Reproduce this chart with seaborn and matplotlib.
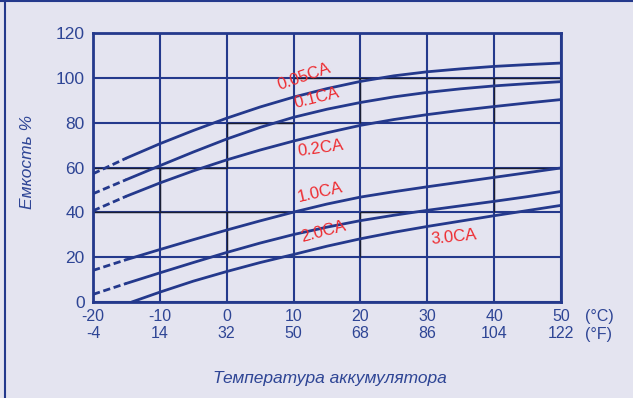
import matplotlib
matplotlib.use("Agg")
import matplotlib.pyplot as plt
import pandas as pd
import seaborn as sns
from matplotlib.lines import Line2D

# Capacity (%) versus battery temperature (deg C) for several discharge rates
temps = [-20, -15, -10, -5, 0, 5, 10, 15, 20, 25, 30, 35, 40, 45, 50]
cap_005 = [57.2, 64.2, 70.6, 76.5, 82.0, 87.0, 91.4, 95.2, 98.4, 100.9, 102.7, 104.0, 105.1, 105.9, 106.6]
cap_01 = [48.3, 54.6, 60.8, 66.9, 72.7, 77.9, 82.4, 86.0, 89.0, 91.5, 93.5, 95.1, 96.4, 97.4, 98.3]
cap_02 = [40.7, 47.2, 53.1, 58.5, 63.4, 67.8, 71.8, 75.5, 78.8, 81.4, 83.6, 85.5, 87.2, 88.8, 90.3]
cap_10 = [14.1, 18.9, 23.4, 27.8, 32.1, 36.2, 40.1, 43.7, 46.8, 49.2, 51.4, 53.5, 55.6, 57.7, 59.8]
cap_20 = [3.4, 8.3, 13.0, 17.6, 22.1, 26.3, 30.1, 33.4, 36.3, 38.7, 40.9, 42.9, 44.9, 47.0, 49.3]
temps_30 = [-14.2, -10, -5, 0, 5, 10, 15, 20, 25, 30, 35, 40, 45, 50]
cap_30 = [0.0, 4.4, 9.3, 13.6, 17.6, 21.2, 24.9, 28.2, 31.1, 33.7, 36.1, 38.5, 40.8, 43.1]

rates = ["0.05CA", "0.1CA", "0.2CA", "1.0CA", "2.0CA", "3.0CA"]
# below this temperature each curve is extrapolated (drawn dashed)
dash_limit = -15

celsius_ticks = [-20, -10, 0, 10, 20, 30, 40, 50]
fahrenheit_ticks = [-4, 14, 32, 50, 68, 86, 104, 122]
cap_ticks = [0, 20, 40, 60, 80, 100, 120]

# label placement (temperature, capacity, rotation) for each rate
label_pos = [(11.6, 100.4, 19), (13.4, 91.2, 14), (14.0, 68.6, 8),
             (14.0, 49.0, 13), (14.4, 31.2, 15), (34.0, 28.8, 6)]

BG = "#E4E4F0"
BLUE = "#24398C"
TEXT = "#2E4595"
RED = "#EE2B30"

series = [(temps, cap_005), (temps, cap_01), (temps, cap_02),
          (temps, cap_10), (temps, cap_20), (temps_30, cap_30)]

rows = []
for rate, (tt, cc) in zip(rates, series):
    for t, c in zip(tt, cc):
        if t <= dash_limit:
            rows.append((rate + "-ext", "ext", t, c))
        if t >= dash_limit:
            rows.append((rate, "main", t, c))
df = pd.DataFrame(rows, columns=["curve", "segment", "temp", "capacity"])

sns.set_theme(style="white")
plt.rcParams["font.family"] = ["Liberation Sans", "DejaVu Sans"]

fig = plt.figure(figsize=(6.33, 3.98), dpi=100, facecolor=BG)
ax = fig.add_axes([93 / 633, 1 - 302 / 398, 468 / 633, 269 / 398])
ax.set_facecolor(BG)

# dark under-grid segments: (value, start, end)
dark_h = [(80, 0, 10), (60, -20, 0), (40, -20, 10), (40, 20, 27),
          (100, 10, 50), (60, 40, 50)]
dark_v = [(-20, 20, 60), (-10, 40, 60), (0, 60, 80), (0, 20, 40),
          (20, 80, 100), (20, 20, 40), (40, 80, 100), (40, 40, 60)]

ax.set_xlim(-20, 50)
ax.set_ylim(0, 120)
ax.set_xticks(celsius_ticks)
ax.set_yticks(cap_ticks)
ax.grid(True, color=BLUE, lw=1.5, zorder=1)
ax.set_axisbelow(True)
for v, a, b in dark_h:
    ax.hlines(v, a, b, color="#1a1f33", lw=1.0, zorder=1.5)
for v, a, b in dark_v:
    ax.vlines(v, a, b, color="#1a1f33", lw=1.0, zorder=1.5)

palette = {k: BLUE for k in df["curve"].unique()}
sns.lineplot(data=df, x="temp", y="capacity", hue="curve", style="segment",
             units="curve", estimator=None, sort=False, palette=palette,
             dashes={"main": "", "ext": (2.6, 1.3)}, lw=2.0, legend=False,
             ax=ax, zorder=3)

for spine in ax.spines.values():
    spine.set_color(BLUE)
    spine.set_linewidth(2)
    spine.set_visible(True)

ax.set_xticklabels([f"{c}\n{f}" for c, f in zip(celsius_ticks, fahrenheit_ticks)])
ax.tick_params(axis="x", length=0, pad=5, labelsize=11.5, labelcolor=TEXT)
ax.tick_params(axis="y", length=0, pad=6, labelsize=12.5, labelcolor=TEXT)
for lbl in ax.get_xticklabels():
    lbl.set_linespacing(1.2)
ax.set_xlabel("")
ax.set_ylabel("")

for rate, (x, y, rot) in zip(rates, label_pos):
    ax.text(x, y, rate, color=RED, fontsize=12, rotation=rot,
            ha="center", va="center", rotation_mode="anchor", zorder=4)

fig.text(585 / 633, 1 - 317 / 398, "(°C)", color=TEXT, fontsize=11.5,
         ha="left", va="center")
fig.text(585 / 633, 1 - 335 / 398, "(°F)", color=TEXT, fontsize=11.5,
         ha="left", va="center")
fig.text(28 / 633, 1 - 162 / 398, "Емкость %", color=TEXT, fontsize=12.5,
         style="italic", rotation=90, ha="center", va="center")
fig.text(330 / 633, 1 - 379 / 398, "Температура аккумулятора", color=TEXT,
         fontsize=12.5, style="italic", ha="center", va="center")

# frame lines along the top and left edges of the figure
fig.add_artist(Line2D([4.5 / 633, 4.5 / 633], [0, 1], color=BLUE, lw=1.5,
                      transform=fig.transFigure))
fig.add_artist(Line2D([0, 1], [1 - 0.8 / 398, 1 - 0.8 / 398], color=BLUE,
                      lw=1.5, transform=fig.transFigure))

fig.savefig("out.png", dpi=100, facecolor=BG)
